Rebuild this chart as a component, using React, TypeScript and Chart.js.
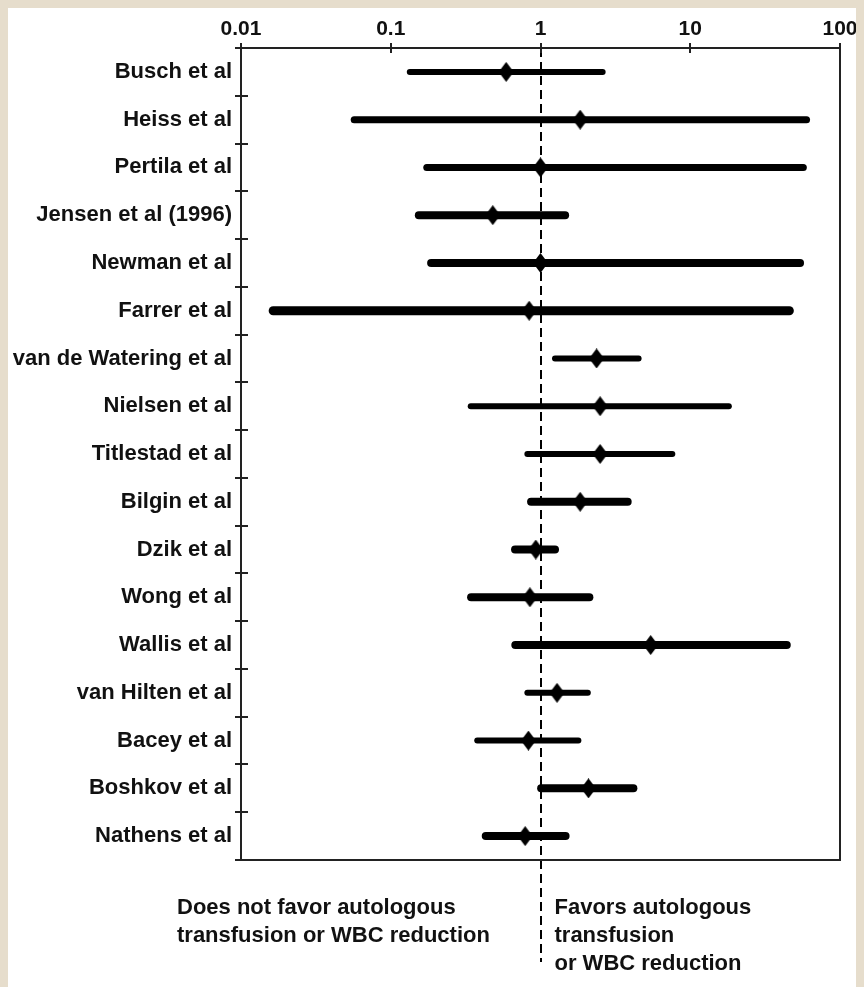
import { useEffect, useRef } from 'react';
import { Chart, registerables } from 'chart.js';

Chart.register(...registerables);

const studies = [
  'Busch et al',
  'Heiss et al',
  'Pertila et al',
  'Jensen et al (1996)',
  'Newman et al',
  'Farrer et al',
  'van de Watering et al',
  'Nielsen et al',
  'Titlestad et al',
  'Bilgin et al',
  'Dzik et al',
  'Wong et al',
  'Wallis et al',
  'van Hilten et al',
  'Bacey et al',
  'Boshkov et al',
  'Nathens et al',
];

const estimates = [0.59, 1.84, 1.0, 0.48, 1.0, 0.84, 2.37, 2.5, 2.5, 1.84, 0.93, 0.85, 5.44, 1.29, 0.83, 2.09, 0.79];
const lower = [0.134, 0.057, 0.174, 0.154, 0.186, 0.0164, 1.25, 0.342, 0.817, 0.865, 0.676, 0.344, 0.679, 0.817, 0.378, 1.01, 0.431];
const upper = [2.6, 59.8, 56.9, 1.46, 54.1, 45.9, 4.52, 18.1, 7.59, 3.82, 1.25, 2.12, 44.1, 2.07, 1.79, 4.17, 1.47];

const tickValues = [0.01, 0.1, 1, 10, 100];

const leftNote = ['Does not favor autologous', 'transfusion or WBC reduction'];
const rightNote = ['Favors autologous', 'transfusion', 'or WBC reduction'];

// line weight per study, as drawn in the original
const lineWidths = [6, 7, 7, 8, 8, 9, 6, 6, 6, 8, 8, 8, 8, 6, 6, 8, 8];

const FONT = "'Liberation Sans', Arial, sans-serif";
const INK = '#111';

function makeDiamond() {
  const c = document.createElement('canvas');
  c.width = 15;
  c.height = 20;
  const g = c.getContext('2d');
  if (g) {
    g.fillStyle = '#000';
    g.beginPath();
    g.moveTo(7.5, 0);
    g.lineTo(15, 10);
    g.lineTo(7.5, 20);
    g.lineTo(0, 10);
    g.closePath();
    g.fill();
  }
  return c;
}

const forestPlugin = {
  id: 'forest',
  beforeDatasetsDraw(chart: any) {
    const { ctx, scales } = chart;
    const x1 = Math.round(scales.x.getPixelForValue(1));
    ctx.save();
    ctx.strokeStyle = '#000';
    ctx.lineWidth = 2;
    ctx.setLineDash([9, 5]);
    ctx.beginPath();
    ctx.moveTo(x1, chart.chartArea.top);
    ctx.lineTo(x1, 954);
    ctx.stroke();
    ctx.restore();
  },
  afterDraw(chart: any) {
    const { ctx, chartArea, scales } = chart;
    const { left, right, top, bottom } = chartArea;
    ctx.save();
    ctx.strokeStyle = '#222';
    ctx.lineWidth = 2;
    ctx.strokeRect(left, top, right - left, bottom - top);

    // row separators on the left axis
    ctx.beginPath();
    const n = studies.length;
    const step = (scales.y.getPixelForValue(n - 1) - scales.y.getPixelForValue(0)) / (n - 1);
    for (let i = 0; i <= n; i++) {
      const y = Math.round(scales.y.getPixelForValue(0) - step / 2 + i * step);
      ctx.moveTo(left - 6, y);
      ctx.lineTo(left + 7, y);
    }
    // decade ticks on the top axis
    tickValues.forEach((v) => {
      const x = Math.round(scales.x.getPixelForValue(v));
      ctx.moveTo(x, top - 5);
      ctx.lineTo(x, top + 5);
    });
    ctx.stroke();

    const x1 = scales.x.getPixelForValue(1);
    ctx.fillStyle = INK;
    ctx.font = `bold 22px ${FONT}`;
    ctx.textAlign = 'left';
    ctx.textBaseline = 'alphabetic';
    leftNote.forEach((t, i) => ctx.fillText(t, 169, 906 + i * 28));
    rightNote.forEach((t, i) => ctx.fillText(t, x1 + 14, 906 + i * 28));
    ctx.restore();
  },
};

export default function App() {
  const canvasRef = useRef<HTMLCanvasElement>(null);
  const chartRef = useRef<Chart | null>(null);

  useEffect(() => {
    document.documentElement.style.overflow = 'hidden';
    document.body.style.background = '#e6ddcc';
    if (!canvasRef.current) return;
    if (chartRef.current) chartRef.current.destroy();
    const ctx = canvasRef.current.getContext('2d');
    if (!ctx) return;

    const diamond = makeDiamond();

    const ciSets = studies.map((name, i) => ({
      type: 'line' as const,
      data: [
        { x: lower[i], y: name },
        { x: upper[i], y: name },
      ],
      borderColor: '#000',
      borderWidth: lineWidths[i],
      borderCapStyle: 'round' as const,
      pointRadius: 0,
      order: 1,
    }));

    chartRef.current = new Chart(ctx, {
      type: 'line',
      data: {
        datasets: [
          {
            data: studies.map((name, i) => ({ x: estimates[i], y: name })),
            showLine: false,
            pointStyle: diamond,
            pointRadius: 7,
            order: 0,
          } as any,
          ...ciSets,
        ],
      },
      options: {
        responsive: false,
        animation: false,
        events: [],
        layout: { padding: { left: 0, right: 24, top: 0, bottom: 127 } },
        plugins: {
          legend: { display: false },
          tooltip: { enabled: false },
        },
        scales: {
          x: {
            type: 'logarithmic',
            position: 'top',
            min: 0.01,
            max: 100,
            grid: { display: false, drawTicks: false },
            border: { display: false },
            afterBuildTicks: (s: any) => {
              s.ticks = tickValues.map((v) => ({ value: v }));
            },
            afterFit: (s: any) => {
              s.height = 40;
            },
            ticks: {
              autoSkip: false,
              maxRotation: 0,
              padding: 6,
              color: INK,
              font: { family: FONT, size: 21, weight: 'bold' },
              callback: (v: any) => String(v),
            },
          },
          y: {
            type: 'category',
            labels: studies,
            offset: true,
            grid: { display: false, drawTicks: false },
            border: { display: false },
            afterFit: (s: any) => {
              s.width = 233;
            },
            ticks: {
              padding: 9,
              color: INK,
              font: { family: FONT, size: 22, weight: 'bold' },
            },
          },
        },
      },
      plugins: [forestPlugin],
    });

    return () => {
      chartRef.current?.destroy();
      chartRef.current = null;
    };
  }, []);

  return (
    <div style={{ width: 900, height: 990, background: '#fff' }}>
      <canvas ref={canvasRef} width={856} height={979} />
    </div>
  );
}
